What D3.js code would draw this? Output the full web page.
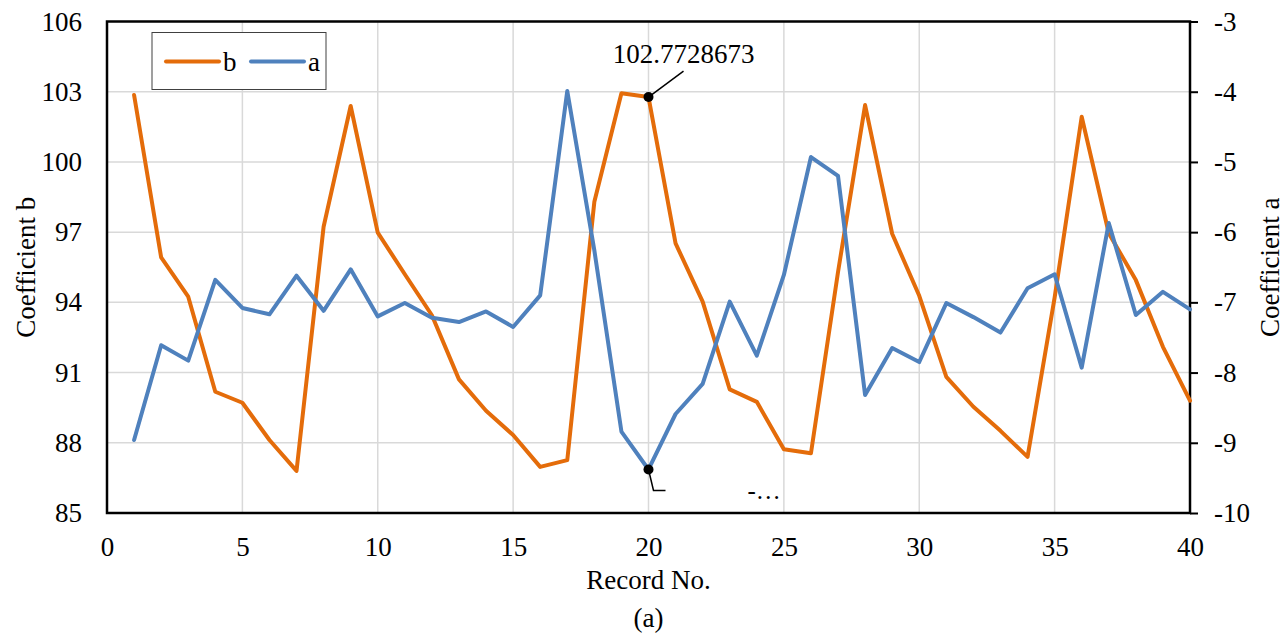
<!DOCTYPE html>
<html>
<head>
<meta charset="utf-8">
<script src="https://cdn.jsdelivr.net/npm/d3@7"></script>
<style>
  body { margin: 0; background: #fff; }
  svg text { font-family: "Liberation Serif", "Times New Roman", serif !important; fill: #000; }
  .domain { display: none; }
</style>
</head>
<body>
<div id="chart"></div>
<script>
// Data
var records = d3.range(1, 41);
var coefB = [102.86, 95.92, 94.24, 90.18, 89.71, 88.12, 86.8, 97.23, 102.39, 96.98,
             95.2, 93.45, 90.71, 89.37, 88.33, 86.97, 87.26, 98.3, 102.93, 102.7728673,
             96.52, 94.03, 90.28, 89.75, 87.72, 87.55, 95.3, 102.43, 96.93, 94.28,
             90.82, 89.54, 88.51, 87.4, 94.2, 101.93, 96.95, 94.95, 92.1, 89.8];
var coefA = [-8.96, -7.61, -7.83, -6.68, -7.08, -7.17, -6.62, -7.12, -6.53, -7.2,
             -7.01, -7.22, -7.28, -7.13, -7.35, -6.9, -3.99, -6.26, -8.84, -9.38,
             -8.59, -8.16, -6.99, -7.76, -6.61, -4.93, -5.2, -8.32, -7.65, -7.85,
             -7.01, -7.21, -7.43, -6.8, -6.6, -7.93, -5.87, -7.18, -6.85, -7.1];
var xTicks = [0, 5, 10, 15, 20, 25, 30, 35, 40];
var leftTicks = [85, 88, 91, 94, 97, 100, 103, 106];
var rightTicks = [-10, -9, -8, -7, -6, -5, -4, -3];

var svgWidth = 1285;
var svgHeight = 637;
var margin = { top: 21.5, right: 95, bottom: 124, left: 107 };
var width = svgWidth - margin.left - margin.right;
var height = svgHeight - margin.top - margin.bottom;

var orange = "#e46c0a";
var blue = "#4f81bd";
var fs = "27px";

var svg = d3.select("#chart").append("svg")
  .attr("width", svgWidth)
  .attr("height", svgHeight);

var chartGroup = svg.append("g")
  .attr("transform", `translate(${margin.left}, ${margin.top})`);

var x = d3.scaleLinear().domain([0, 40]).range([0, width]);
var yLeft = d3.scaleLinear().domain([85, 106]).range([height, 0]);
var yRight = d3.scaleLinear().domain([-10, -3]).range([height, 0]);

// Gridlines
chartGroup.append("g")
  .selectAll("line.vgrid")
  .data(xTicks.slice(1, -1))
  .enter().append("line")
  .attr("x1", d => x(d)).attr("x2", d => x(d))
  .attr("y1", 0).attr("y2", height)
  .attr("stroke", "#d9d9d9").attr("stroke-width", 1.5);

chartGroup.append("g")
  .selectAll("line.hgrid")
  .data(leftTicks.slice(1, -1))
  .enter().append("line")
  .attr("x1", 0).attr("x2", width)
  .attr("y1", d => yLeft(d)).attr("y2", d => yLeft(d))
  .attr("stroke", "#d9d9d9").attr("stroke-width", 1.5);

// Axes (plain hyphen minus like the original)
var fmt = d => String(d);
var bottomAxis = d3.axisBottom(x).tickValues(xTicks).tickFormat(fmt).tickSize(0).tickPadding(24);
var leftAxis = d3.axisLeft(yLeft).tickValues(leftTicks).tickFormat(fmt).tickSize(0).tickPadding(25);
var rightAxis = d3.axisRight(yRight).tickValues(rightTicks).tickFormat(fmt).tickSize(8).tickPadding(16);

chartGroup.append("g")
  .attr("transform", `translate(0, ${height})`)
  .call(bottomAxis)
  .selectAll("text").style("font-size", fs);

chartGroup.append("g")
  .call(leftAxis)
  .selectAll("text").style("font-size", fs);

var rg = chartGroup.append("g")
  .attr("transform", `translate(${width}, 0)`)
  .call(rightAxis);
rg.selectAll("text").style("font-size", fs);
rg.selectAll(".tick line").attr("stroke", "#000").attr("stroke-width", 2);

// Plot border
chartGroup.append("rect")
  .attr("width", width).attr("height", height)
  .attr("fill", "none").attr("stroke", "#000").attr("stroke-width", 2.5);

// Lines
var lineB = d3.line().x((d, i) => x(records[i])).y(d => yLeft(d));
var lineA = d3.line().x((d, i) => x(records[i])).y(d => yRight(d));

chartGroup.append("path")
  .datum(coefB)
  .attr("d", lineB)
  .attr("fill", "none").attr("stroke", orange)
  .attr("stroke-width", 4).attr("stroke-linejoin", "round").attr("stroke-linecap", "round");

chartGroup.append("path")
  .datum(coefA)
  .attr("d", lineA)
  .attr("fill", "none").attr("stroke", blue)
  .attr("stroke-width", 4).attr("stroke-linejoin", "round").attr("stroke-linecap", "round");

// Annotations at record 20
var px = x(records[19]);
var pyB = yLeft(coefB[19]);
var pyA = yRight(coefA[19]);

chartGroup.append("line")
  .attr("x1", px).attr("y1", pyB)
  .attr("x2", px + 35).attr("y2", pyB - 26)
  .attr("stroke", "#000").attr("stroke-width", 1.5);
chartGroup.append("circle")
  .attr("cx", px).attr("cy", pyB).attr("r", 5).attr("fill", "#000");
chartGroup.append("text")
  .attr("x", px + 35).attr("y", pyB - 34)
  .attr("text-anchor", "middle")
  .style("font-size", fs)
  .text("102.7728673");

chartGroup.append("path")
  .attr("d", `M${px},${pyA} L${px + 5},${pyA + 21} L${px + 17},${pyA + 21}`)
  .attr("fill", "none").attr("stroke", "#000").attr("stroke-width", 1.5);
chartGroup.append("circle")
  .attr("cx", px).attr("cy", pyA).attr("r", 5).attr("fill", "#000");
chartGroup.append("text")
  .attr("x", px + 99).attr("y", pyA + 30)
  .style("font-size", "25px")
  .text("-…");

// Legend
var legend = chartGroup.append("g")
  .attr("transform", "translate(45, 11)");
legend.append("rect")
  .attr("width", 174).attr("height", 57)
  .attr("fill", "#fff").attr("stroke", "#404040").attr("stroke-width", 1);
var legendItems = [{ name: "b", color: orange }, { name: "a", color: blue }];
legendItems.forEach(function(item, i) {
  var lx = 14 + i * 85;
  legend.append("line")
    .attr("x1", lx).attr("x2", lx + 53)
    .attr("y1", 29).attr("y2", 29)
    .attr("stroke", item.color).attr("stroke-width", 4).attr("stroke-linecap", "round");
  legend.append("text")
    .attr("x", lx + 57).attr("y", 38)
    .style("font-size", fs)
    .text(item.name);
});

// Axis titles
svg.append("text")
  .attr("x", margin.left + width / 2).attr("y", 589)
  .attr("text-anchor", "middle")
  .style("font-size", fs)
  .text("Record No.");

svg.append("text")
  .attr("x", margin.left + width / 2).attr("y", 627)
  .attr("text-anchor", "middle")
  .style("font-size", fs)
  .text("(a)");

svg.append("text")
  .attr("transform", `translate(35, ${margin.top + height / 2}) rotate(-90)`)
  .attr("text-anchor", "middle")
  .style("font-size", fs)
  .text("Coefficient b");

svg.append("text")
  .attr("transform", `translate(1279, ${margin.top + height / 2}) rotate(-90)`)
  .attr("text-anchor", "middle")
  .style("font-size", fs)
  .text("Coefficient a");
</script>
</body>
</html>
